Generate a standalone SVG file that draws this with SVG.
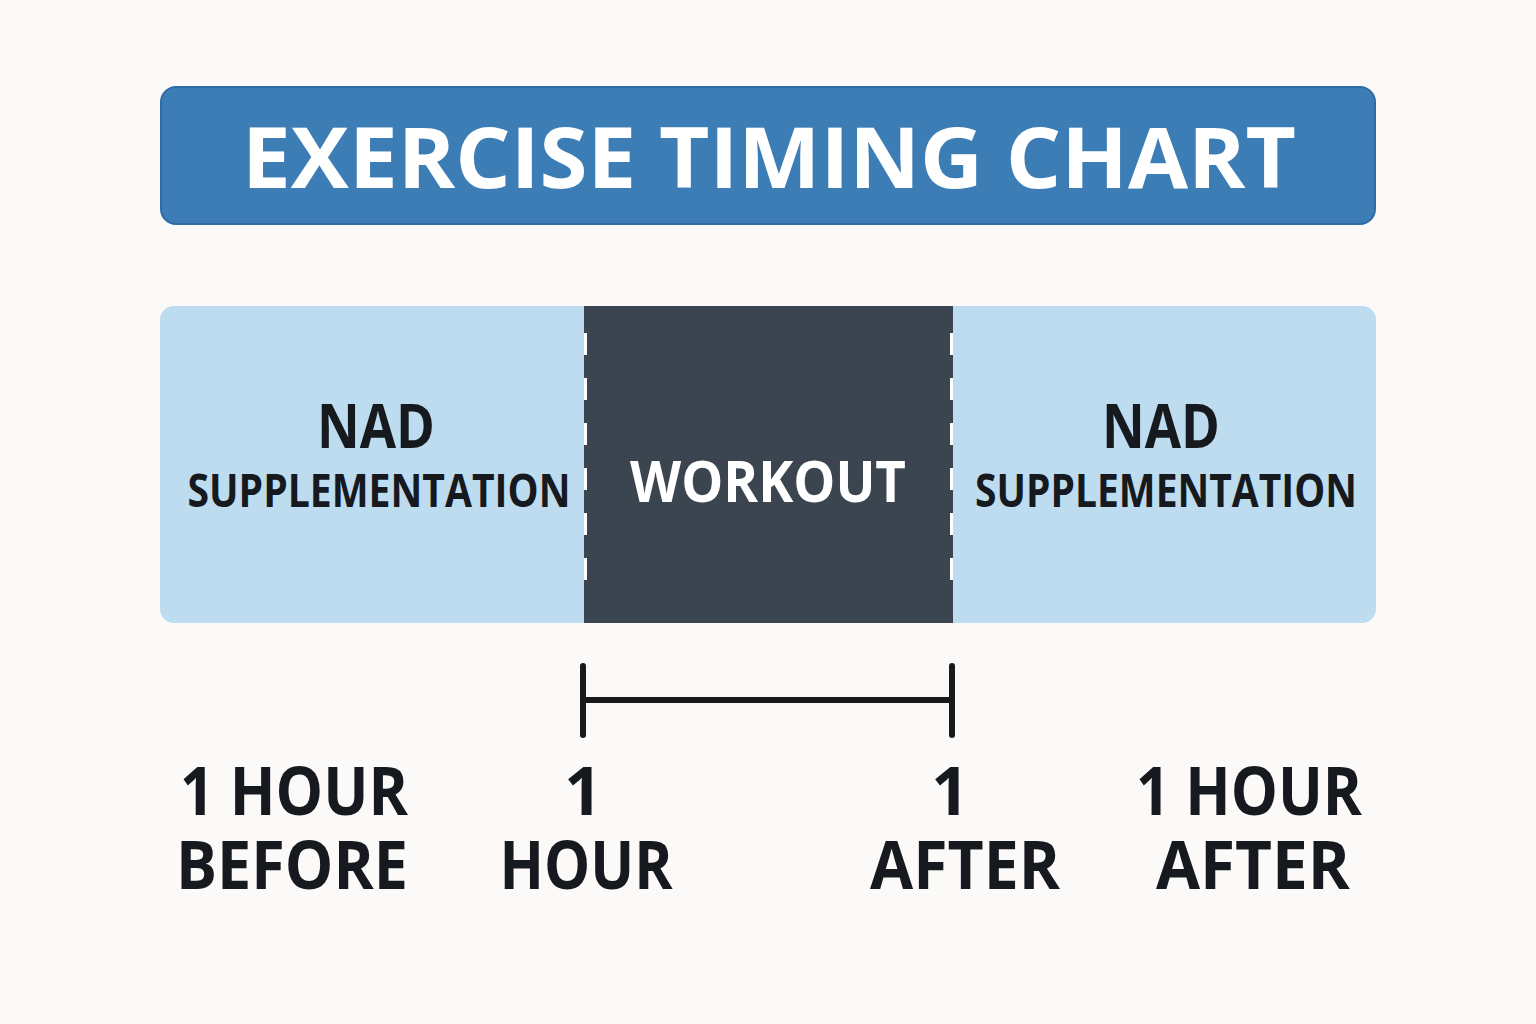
<svg xmlns="http://www.w3.org/2000/svg" width="1536" height="1024" viewBox="0 0 1536 1024">
<style>
text{font-family:"Open Sans","Noto Sans","Liberation Sans",sans-serif;font-weight:700;text-anchor:middle}
.dk{fill:#16191d}
.wh{fill:#ffffff}
.dash{stroke:#ffffff;stroke-width:3;stroke-dasharray:22 23}
.br{stroke:#1a1a1a;stroke-width:6;stroke-linecap:round;fill:none}
</style>
<rect width="1536" height="1024" fill="#fbfaf8"/>
<g id="title">
<rect x="161" y="87" width="1214" height="137" rx="15" fill="#3c7db5" stroke="#2d6ca8" stroke-width="2"/>
<text class="wh" x="769" y="188" font-size="84" textLength="1054" lengthAdjust="spacingAndGlyphs">EXERCISE TIMING CHART</text>
</g>
<g id="bar-left">
<rect x="160" y="306" width="440" height="317" rx="14" fill="#bddcf0"/>
<text class="dk" x="376" y="448" font-size="60" textLength="118" lengthAdjust="spacingAndGlyphs">NAD</text>
<text class="dk" x="379" y="507" font-size="46" textLength="383" lengthAdjust="spacingAndGlyphs">SUPPLEMENTATION</text>
</g>
<g id="bar-right">
<rect x="936" y="306" width="440" height="317" rx="14" fill="#bddcf0"/>
<text class="dk" x="1161" y="448" font-size="60" textLength="118" lengthAdjust="spacingAndGlyphs">NAD</text>
<text class="dk" x="1166" y="507" font-size="46" textLength="382" lengthAdjust="spacingAndGlyphs">SUPPLEMENTATION</text>
</g>
<g id="workout">
<rect x="584" y="306" width="369" height="317" fill="#3a4550"/>
<text class="wh" x="768" y="502" font-size="58" textLength="276" lengthAdjust="spacingAndGlyphs">WORKOUT</text>
</g>
<g id="connectors">
<line class="dash" x1="585.5" y1="333" x2="585.5" y2="600"/>
<line class="dash" x1="951.5" y1="333" x2="951.5" y2="600"/>
<path class="br" d="M583 666V735M952 666V735M583 700H952"/>
</g>
<g id="labels">
<text class="dk" x="294" y="815" font-size="66" textLength="228" lengthAdjust="spacingAndGlyphs">1 HOUR</text>
<text class="dk" x="292" y="889" font-size="66" textLength="232" lengthAdjust="spacingAndGlyphs">BEFORE</text>
<text class="dk" x="583" y="815" font-size="66">1</text>
<text class="dk" x="586" y="889" font-size="66" textLength="173" lengthAdjust="spacingAndGlyphs">HOUR</text>
<text class="dk" x="950" y="815" font-size="66">1</text>
<text class="dk" x="965" y="889" font-size="66" textLength="190" lengthAdjust="spacingAndGlyphs">AFTER</text>
<text class="dk" x="1249" y="815" font-size="66" textLength="226" lengthAdjust="spacingAndGlyphs">1 HOUR</text>
<text class="dk" x="1253" y="889" font-size="66" textLength="194" lengthAdjust="spacingAndGlyphs">AFTER</text>
</g>
</svg>
